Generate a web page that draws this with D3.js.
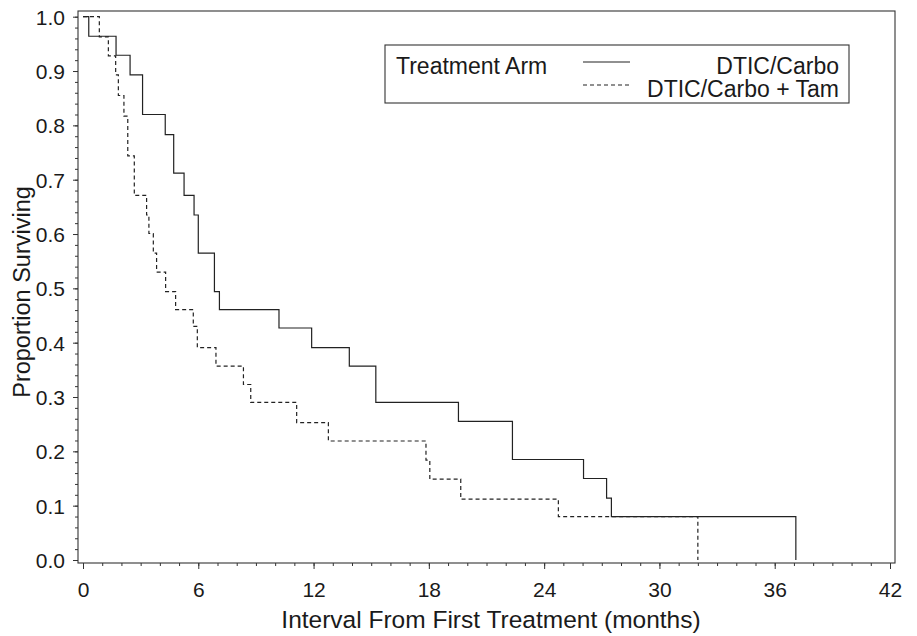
<!DOCTYPE html>
<html>
<head>
<meta charset="utf-8">
<script src="https://cdn.jsdelivr.net/npm/d3@7"></script>
<style>
  html, body { margin: 0; padding: 0; background: #fff; }
  svg { display: block; font-family: "Liberation Sans", Arial, Helvetica, sans-serif; }
</style>
</head>
<body>
<svg id="chart" width="917" height="636"></svg>
<script>
// ---- data ----
const seriesNames = ["DTIC/Carbo", "DTIC/Carbo + Tam"];
// Kaplan-Meier step points: [months, proportion surviving]
const carboTimes = [0, 0.30, 1.72, 2.45, 3.10, 4.28, 4.72, 5.26, 5.78, 6.00, 6.84, 7.10, 10.20, 11.90, 13.86, 15.24, 19.54, 22.35, 26.05, 27.25, 27.50, 37.10];
const carboSurv  = [1.0, 0.964, 0.929, 0.893, 0.820, 0.783, 0.712, 0.671, 0.635, 0.565, 0.494, 0.461, 0.427, 0.391, 0.357, 0.290, 0.255, 0.185, 0.150, 0.114, 0.080, 0.0];
const tamTimes = [0, 0.85, 1.32, 1.70, 1.84, 2.13, 2.33, 2.67, 3.31, 3.43, 3.66, 3.83, 4.30, 4.82, 5.74, 5.95, 6.92, 8.35, 8.73, 11.12, 12.77, 17.85, 18.05, 19.66, 24.74, 32.0];
const tamSurv  = [1.0, 0.963, 0.928, 0.893, 0.855, 0.817, 0.744, 0.671, 0.635, 0.601, 0.565, 0.530, 0.494, 0.461, 0.430, 0.391, 0.357, 0.323, 0.290, 0.253, 0.219, 0.184, 0.149, 0.112, 0.080, 0.0];
const xTicks = [0, 6, 12, 18, 24, 30, 36, 42];
const yTicks = [0.0, 0.1, 0.2, 0.3, 0.4, 0.5, 0.6, 0.7, 0.8, 0.9, 1.0];
const xTitle = "Interval From First Treatment (months)";
const yTitle = "Proportion Surviving";
const legendTitle = "Treatment Arm";

// ---- layout ----
const frame = { left: 78, right: 895, top: 11, bottom: 563 };
const ink = "#1a1a1a";
const svg = d3.select("#chart");

const x = d3.scaleLinear().domain([0, 42]).range([83, 890]);
const y = d3.scaleLinear().domain([0, 1]).range([560, 16.7]);

// frame
svg.append("rect")
  .attr("x", frame.left).attr("y", frame.top)
  .attr("width", frame.right - frame.left).attr("height", frame.bottom - frame.top)
  .attr("fill", "none").attr("stroke", "#333").attr("stroke-width", 1.1);

// x axis: minor ticks every month, major every 6
const xMinor = svg.append("g").attr("transform", `translate(0,${frame.bottom})`)
  .call(d3.axisBottom(x).tickValues(d3.range(0, 43, 1)).tickSize(3).tickFormat(""));
const xMajor = svg.append("g").attr("transform", `translate(0,${frame.bottom})`)
  .call(d3.axisBottom(x).tickValues(xTicks).tickSize(6).tickPadding(15).tickFormat(d3.format("d")));
[xMinor, xMajor].forEach(g => {
  g.select(".domain").remove();
  g.selectAll(".tick line").attr("stroke", "#333").attr("stroke-width", 1);
});
xMajor.selectAll(".tick text")
  .attr("fill", ink).attr("font-size", 21).attr("dy", null).attr("y", 34);

// y axis: minor ticks every 0.02, major every 0.1
const yMinor = svg.append("g").attr("transform", `translate(${frame.left},0)`)
  .call(d3.axisLeft(y).tickValues(d3.range(0, 51).map(i => i / 50)).tickSize(3).tickFormat(""));
const yMajor = svg.append("g").attr("transform", `translate(${frame.left},0)`)
  .call(d3.axisLeft(y).tickValues(yTicks).tickSize(5).tickPadding(8).tickFormat(d3.format(".1f")));
[yMinor, yMajor].forEach(g => {
  g.select(".domain").remove();
  g.selectAll(".tick line").attr("stroke", "#333").attr("stroke-width", 1);
});
yMajor.selectAll(".tick text").attr("fill", ink).attr("font-size", 21).attr("dy", "0.36em");

// axis titles
svg.append("text").attr("x", 491).attr("y", 628).attr("text-anchor", "middle")
  .attr("font-size", 24.5).attr("fill", ink).text(xTitle);
svg.append("text").attr("transform", "translate(30,292) rotate(-90)").attr("text-anchor", "middle")
  .attr("font-size", 23.5).attr("fill", ink).text(yTitle);

// survival curves
const line = d3.line().x(d => x(d[0])).y(d => y(d[1])).curve(d3.curveStepAfter);
const carbo = carboTimes.map((t, i) => [t, carboSurv[i]]);
const tam = tamTimes.map((t, i) => [t, tamSurv[i]]);
svg.append("path").datum(carbo).attr("d", line)
  .attr("fill", "none").attr("stroke", "#222").attr("stroke-width", 1.2);
svg.append("path").datum(tam).attr("d", line)
  .attr("fill", "none").attr("stroke", "#222").attr("stroke-width", 1.2).attr("stroke-dasharray", "4,3");

// legend
const lg = svg.append("g");
lg.append("rect").attr("x", 385).attr("y", 45).attr("width", 464).attr("height", 58)
  .attr("fill", "#fff").attr("stroke", "#333").attr("stroke-width", 1.1);
lg.append("text").attr("x", 396).attr("y", 74).attr("font-size", 23).attr("fill", ink).text(legendTitle);
const dashes = [null, "4,3"];
seriesNames.forEach((name, i) => {
  const ly = 62 + i * 23;
  lg.append("line").attr("x1", 583).attr("x2", 630).attr("y1", ly).attr("y2", ly)
    .attr("stroke", "#222").attr("stroke-width", 1.1).attr("stroke-dasharray", dashes[i]);
  lg.append("text").attr("x", 839).attr("y", 73.5 + i * 23.5).attr("text-anchor", "end")
    .attr("font-size", 23).attr("fill", ink).text(name);
});
</script>
</body>
</html>
